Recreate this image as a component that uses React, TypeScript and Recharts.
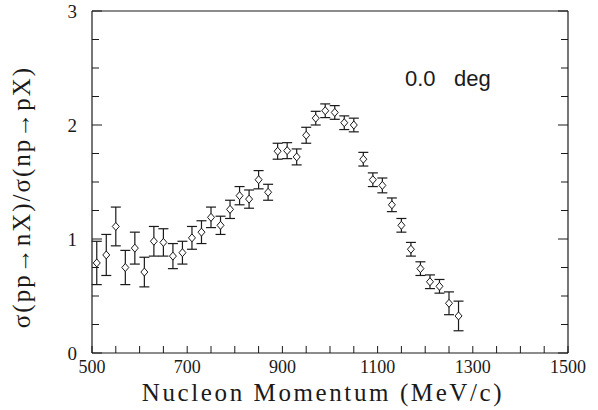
import React from "react";
import { ScatterChart, Scatter, XAxis, YAxis, ErrorBar } from "recharts";

// nucleon momentum (MeV/c)
const momentum = [
  510, 530, 550, 570, 590, 610, 630, 650, 670, 690,
  710, 730, 750, 770, 790, 810, 830, 850, 870, 890,
  910, 930, 950, 970, 990, 1010, 1030, 1050, 1070,
  1090, 1110, 1130, 1150, 1170, 1190, 1210, 1230, 1250, 1270,
];

// sigma(pp->nX) / sigma(np->pX)
const ratio = [
  0.79, 0.86, 1.11, 0.75, 0.92, 0.71, 0.98, 0.97, 0.85, 0.88,
  1.01, 1.06, 1.19, 1.12, 1.26, 1.38, 1.35, 1.52, 1.41, 1.77,
  1.775, 1.72, 1.91, 2.06, 2.125, 2.11, 2.02, 2.0, 1.7,
  1.52, 1.47, 1.3, 1.12, 0.91, 0.74, 0.625, 0.585, 0.436, 0.325,
];

const ratioErr = [
  0.19, 0.18, 0.17, 0.15, 0.14, 0.13, 0.13, 0.12, 0.11, 0.1,
  0.1, 0.1, 0.09, 0.08, 0.08, 0.08, 0.08, 0.08, 0.07, 0.07,
  0.07, 0.07, 0.07, 0.06, 0.06, 0.06, 0.06, 0.06, 0.06,
  0.06, 0.065, 0.06, 0.06, 0.06, 0.06, 0.06, 0.06, 0.1, 0.13,
];

const xTicks = [
  500, 550, 600, 650, 700, 750, 800, 850, 900, 950, 1000,
  1050, 1100, 1150, 1200, 1250, 1300, 1350, 1400, 1450, 1500,
];
const xLabels = [500, 700, 900, 1100, 1300, 1500];

const yTicks = [0, 0.25, 0.5, 0.75, 1, 1.25, 1.5, 1.75, 2, 2.25, 2.5, 2.75, 3];
const yLabels = [0, 1, 2, 3];

const data = momentum.map((m, i) => ({ p: m, r: ratio[i], err: ratioErr[i] }));

const INK = "#1a1a1a";
const tickFont = "'Liberation Serif', serif";
const titleFont = "'Liberation Serif', serif";

const BottomTick = (props: any) => {
  const { x, y, payload } = props;
  const v = payload.value;
  return (
    <g>
      <line x1={x} x2={x} y1={y} y2={y - 7} stroke={INK} strokeWidth={1} />
      {xLabels.includes(v) && (
        <text x={x} y={y + 20} textAnchor="middle" fontSize={18} fontFamily={tickFont} fill={INK}>
          {v}
        </text>
      )}
    </g>
  );
};

const TopTick = (props: any) => {
  const { x, y } = props;
  return <line x1={x} x2={x} y1={y} y2={y + 7} stroke={INK} strokeWidth={1} />;
};

const LeftTick = (props: any) => {
  const { x, y, payload } = props;
  const v = payload.value;
  const major = yLabels.includes(v);
  return (
    <g>
      <line x1={x} x2={x + (major ? 10 : 7)} y1={y} y2={y} stroke={INK} strokeWidth={1} />
      {major && (
        <text x={x - 15} y={y} dy="0.35em" textAnchor="end" fontSize={19} fontFamily={tickFont} fill={INK}>
          {v}
        </text>
      )}
    </g>
  );
};

const RightTick = (props: any) => {
  const { x, y, payload } = props;
  const major = yLabels.includes(payload.value);
  return <line x1={x} x2={x - (major ? 10 : 7)} y1={y} y2={y} stroke={INK} strokeWidth={1} />;
};

const Diamond = (props: any) => {
  const { cx, cy } = props;
  if (cx == null || cy == null) return null;
  return (
    <polygon
      points={`${cx},${cy - 4} ${cx + 3.5},${cy} ${cx},${cy + 4} ${cx - 3.5},${cy}`}
      fill="#fff"
      stroke={INK}
      strokeWidth={1}
    />
  );
};

export default function App() {
  return (
    <div style={{ position: "absolute", left: 0, top: 0, width: 598, height: 410, background: "#fff" }}>
      <ScatterChart width={598} height={410} margin={{ top: 0, right: 0, bottom: 0, left: 0 }}>
        <XAxis
          dataKey="p"
          type="number"
          domain={[500, 1500]}
          ticks={xTicks}
          allowDataOverflow
          height={57}
          tickSize={0}
          tickMargin={0}
          tickLine={false}
          interval={0}
          axisLine={{ stroke: INK, strokeWidth: 1.2 }}
          tick={<BottomTick />}
        />
        <XAxis
          xAxisId="top"
          orientation="top"
          type="number"
          domain={[500, 1500]}
          ticks={xTicks}
          allowDataOverflow
          height={11}
          tickSize={0}
          tickMargin={0}
          tickLine={false}
          interval={0}
          axisLine={{ stroke: INK, strokeWidth: 1.2 }}
          tick={<TopTick />}
        />
        <YAxis
          dataKey="r"
          type="number"
          domain={[0, 3]}
          ticks={yTicks}
          allowDataOverflow
          width={92}
          tickSize={0}
          tickMargin={0}
          tickLine={false}
          interval={0}
          axisLine={{ stroke: INK, strokeWidth: 1.2 }}
          tick={<LeftTick />}
        />
        <YAxis
          yAxisId="right"
          orientation="right"
          type="number"
          domain={[0, 3]}
          ticks={yTicks}
          allowDataOverflow
          width={30}
          tickSize={0}
          tickMargin={0}
          tickLine={false}
          interval={0}
          axisLine={{ stroke: INK, strokeWidth: 1.2 }}
          tick={<RightTick />}
        />
        <Scatter data={data} isAnimationActive={false} shape={<Diamond />}>
          <ErrorBar dataKey="err" direction="y" width={5} stroke={INK} strokeWidth={1.2} />
        </Scatter>
      </ScatterChart>
      <div
        style={{
          position: "absolute",
          left: 22,
          top: 197,
          transform: "translate(-50%, -50%) rotate(-90deg)",
          whiteSpace: "nowrap",
          fontFamily: titleFont,
          fontSize: 25,
          letterSpacing: 2,
          color: INK,
        }}
      >
        σ(pp→nX)/σ(np→pX)
      </div>
      <div
        style={{
          position: "absolute",
          left: 323,
          top: 393,
          transform: "translate(-50%, -50%)",
          whiteSpace: "nowrap",
          fontFamily: titleFont,
          fontSize: 25,
          letterSpacing: 2.6,
          color: INK,
        }}
      >
        Nucleon Momentum (MeV/c)
      </div>
      <div
        style={{
          position: "absolute",
          left: 405,
          top: 66,
          whiteSpace: "pre",
          fontFamily: "'Liberation Sans', sans-serif",
          fontSize: 22,
          color: INK,
        }}
      >
        {"0.0   deg"}
      </div>
    </div>
  );
}
